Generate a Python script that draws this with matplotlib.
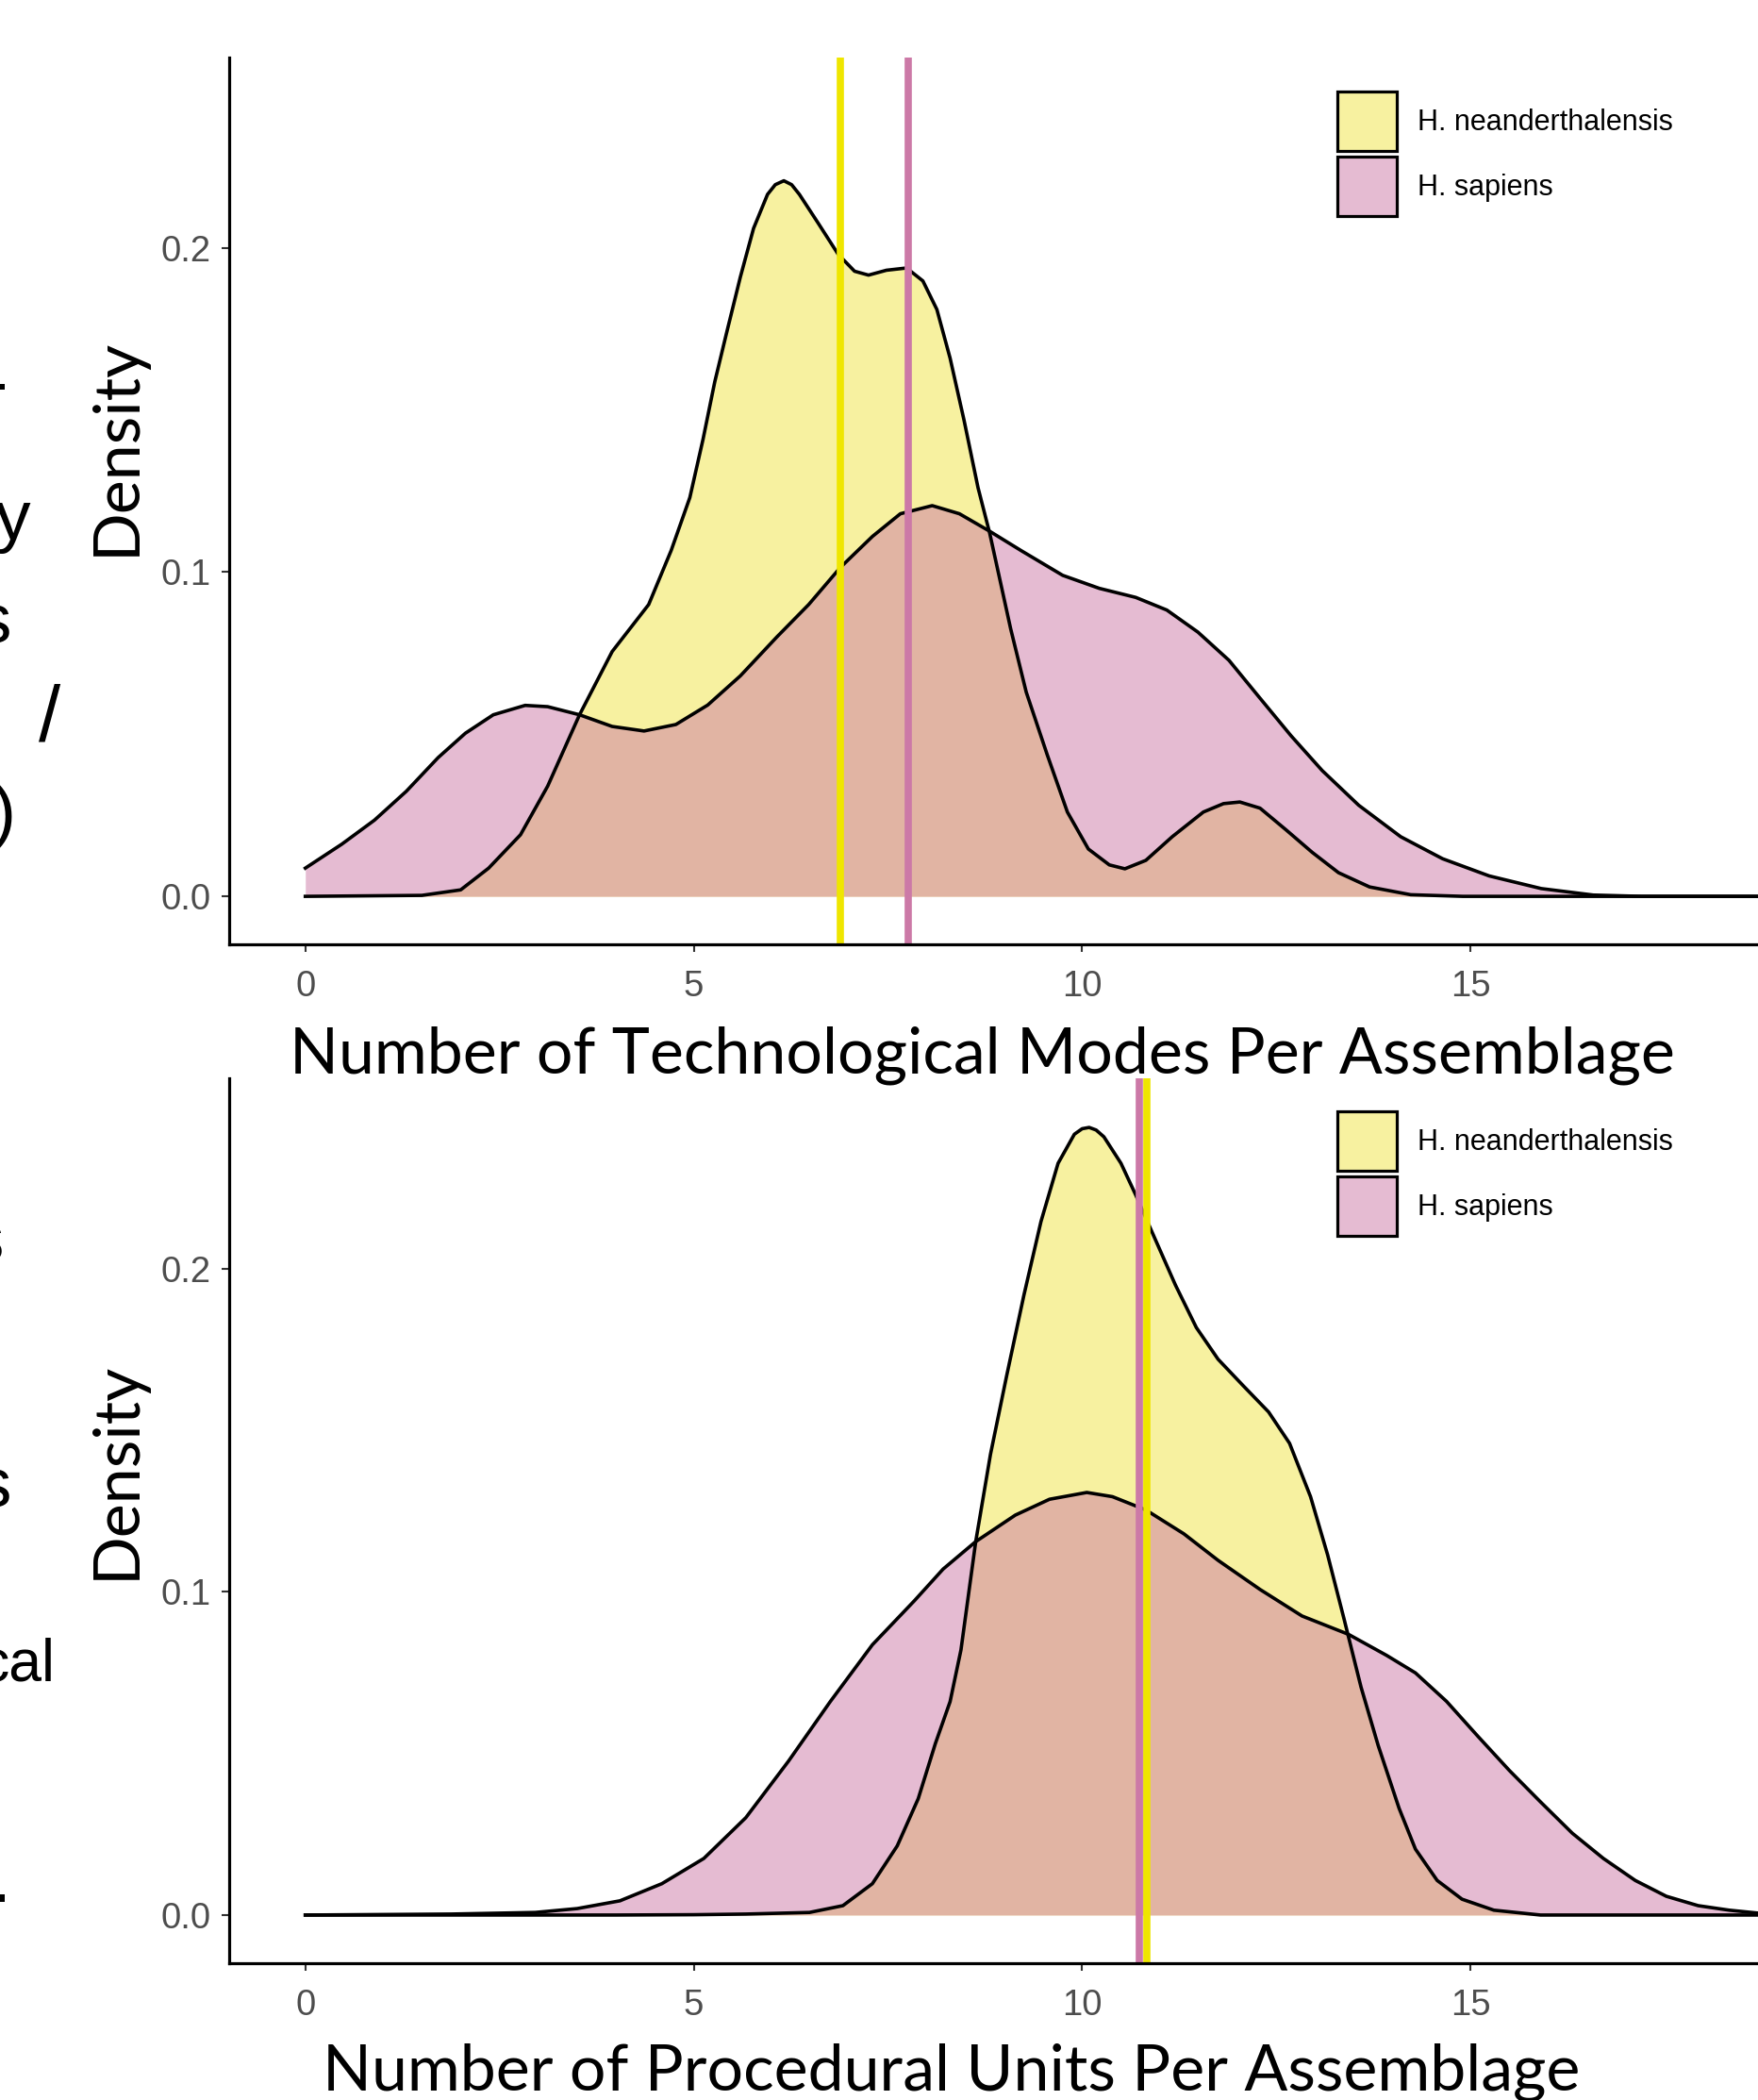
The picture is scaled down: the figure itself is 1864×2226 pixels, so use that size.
import matplotlib
matplotlib.use("Agg")
import matplotlib.pyplot as plt
import matplotlib.colors as mcolors
from matplotlib.patches import Patch

## groups and colours
groups = ["H. neanderthalensis", "H. sapiens"]
group_colors = ["#F0E442", "#CC79A7"]
mean_colors = ["#EFE600", "#CC79A7"]

## top panel: density of technological modes
modes_nea_x = [0, 1.5, 2.0, 2.36, 2.77, 3.12, 3.53, 3.95, 4.42, 4.71, 4.95, 5.12, 5.27,
               5.42, 5.60, 5.77, 5.95, 6.05, 6.16, 6.26, 6.36, 6.60, 6.86, 7.07, 7.25,
               7.48, 7.74, 7.95, 8.13, 8.30, 8.48, 8.66, 8.81, 9.08, 9.28, 9.55, 9.81,
               10.08, 10.35, 10.55, 10.82, 11.16, 11.56, 11.82, 12.03, 12.29, 12.63,
               12.96, 13.30, 13.70, 14.23, 14.9, 18.7]
modes_nea_y = [0, 0.0003, 0.002, 0.0087, 0.019, 0.034, 0.056, 0.0755, 0.090, 0.1067,
               0.123, 0.141, 0.1586, 0.1735, 0.191, 0.206, 0.2165, 0.2195, 0.2207,
               0.2195, 0.2165, 0.2077, 0.198, 0.1928, 0.1916, 0.1931, 0.1938, 0.1898,
               0.181, 0.166, 0.1468, 0.126, 0.112, 0.0825, 0.063, 0.0437, 0.026, 0.0146,
               0.0097, 0.0085, 0.0111, 0.0184, 0.026, 0.0286, 0.0291, 0.0272, 0.0204,
               0.0136, 0.0073, 0.0029, 0.0005, 0, 0]
modes_sap_x = [0, 0.47, 0.89, 1.30, 1.71, 2.06, 2.42, 2.83, 3.12, 3.53, 3.95, 4.36, 4.77,
               5.18, 5.60, 6.07, 6.48, 6.89, 7.30, 7.66, 8.07, 8.42, 8.81, 9.21, 9.75,
               10.22, 10.69, 11.09, 11.49, 11.89, 12.29, 12.69, 13.09, 13.56, 14.10,
               14.64, 15.24, 15.91, 16.58, 17.2, 18.7]
modes_sap_y = [0.0087, 0.0161, 0.0235, 0.0324, 0.0428, 0.0503, 0.056, 0.0589, 0.0585,
               0.056, 0.0524, 0.051, 0.053, 0.059, 0.068, 0.080, 0.090, 0.1015, 0.111,
               0.118, 0.1205, 0.118, 0.1126, 0.1067, 0.099, 0.095, 0.0922, 0.0883,
               0.0815, 0.0728, 0.0611, 0.0495, 0.0388, 0.0281, 0.0184, 0.0116, 0.0063,
               0.0024, 0.0004, 0, 0]
modes_means = [6.89, 7.76]

## bottom panel: density of procedural units
units_nea_x = [0, 2, 4, 5, 5.67, 6.49, 6.92, 7.30, 7.62, 7.89, 8.11, 8.30, 8.44, 8.63,
               8.82, 9.03, 9.25, 9.47, 9.69, 9.90, 10.0, 10.09, 10.18, 10.28, 10.50,
               10.69, 10.93, 11.20, 11.47, 11.75, 12.07, 12.40, 12.67, 12.94, 13.16,
               13.37, 13.59, 13.81, 14.08, 14.29, 14.57, 14.89, 15.30, 15.9, 17, 18.7]
units_nea_y = [0, 0, 0, 0.0001, 0.0003, 0.0008, 0.0029, 0.0097, 0.0214, 0.036, 0.053,
               0.066, 0.082, 0.1155, 0.1425, 0.167, 0.1917, 0.2145, 0.2325, 0.2415,
               0.2432, 0.2436, 0.2428, 0.2407, 0.2325, 0.2227, 0.2096, 0.1949, 0.1817,
               0.1719, 0.1638, 0.1556, 0.1459, 0.1294, 0.1114, 0.0917, 0.0705, 0.0525,
               0.0330, 0.0204, 0.0107, 0.0049, 0.0015, 0, 0, 0]
units_sap_x = [0, 1.88, 2.96, 3.50, 4.05, 4.59, 5.13, 5.67, 6.22, 6.76, 7.30, 7.84, 8.21,
               8.63, 9.14, 9.58, 10.06, 10.39, 10.82, 11.31, 11.75, 12.29, 12.83, 13.43,
               13.92, 14.29, 14.69, 15.09, 15.50, 15.90, 16.31, 16.71, 17.12, 17.52,
               17.93, 18.33, 18.70]
units_sap_y = [0, 0.0003, 0.0008, 0.002, 0.0044, 0.0097, 0.0175, 0.0301, 0.0476, 0.0661,
               0.0836, 0.0972, 0.1070, 0.1155, 0.1237, 0.1286, 0.1307, 0.1294, 0.1253,
               0.1179, 0.1097, 0.1007, 0.0925, 0.0868, 0.0803, 0.0749, 0.0661, 0.0554,
               0.0447, 0.035, 0.0253, 0.0175, 0.0107, 0.0058, 0.0029, 0.0015, 0.0006]
units_means = [10.83, 10.73]

x_ticks = [0, 5, 10, 15]
y_ticks = [0.0, 0.1, 0.2]
y_ticklabels = ["0.0", "0.1", "0.2"]
xlabels = ["Number of Technological Modes Per Assemblage",
           "Number of Procedural Units Per Assemblage"]

## bits of slide text cut off at the left edge
side_bits = ["T", "y", "s", "/", ")", "s", "s", "cal", "."]

W, H = 1864, 2226
fig = plt.figure(figsize=(W / 100, H / 100), dpi=100)


def fx(px):
    return px / W


def fy(py):
    return 1 - py / H


def draw_panel(ax, nea_x, nea_y, sap_x, sap_y, means):
    curves = [(nea_x, nea_y), (sap_x, sap_y)]
    for (xs, ys), c in zip(curves, group_colors):
        ax.fill_between(xs, 0, ys, color=c, alpha=0.5, linewidth=0)
        ax.plot(xs, ys, color="black", lw=2.6, solid_joinstyle="round")
    for m, c in zip(means, mean_colors):
        ax.axvline(m, color=c, lw=5.5)
    ax.set_xlim(-0.98, 18.70)
    ax.set_xticks(x_ticks)
    ax.set_xticklabels([str(t) for t in x_ticks])
    ax.set_yticks(y_ticks)
    ax.set_yticklabels(y_ticklabels)
    for s in ["top", "right"]:
        ax.spines[s].set_visible(False)
    for s in ["left", "bottom"]:
        ax.spines[s].set_linewidth(2.3)
    ax.tick_params(direction="out", length=5.8, width=1.5, color="#333333",
                   labelcolor="#4D4D4D", labelsize=27.5)
    ax.tick_params(axis="y", pad=8)
    ax.tick_params(axis="x", pad=14)
    for lab in ax.get_xticklabels() + ax.get_yticklabels():
        lab.set_family(["Liberation Sans", "DejaVu Sans"])
    handles = [Patch(facecolor=mcolors.to_rgba(c, 0.5), edgecolor="black", linewidth=2.3)
               for c in group_colors]
    return handles


ax1 = fig.add_axes([fx(243), fy(1001), fx(W - 243), (1001 - 61) / H])
h = draw_panel(ax1, modes_nea_x, modes_nea_y, modes_sap_x, modes_sap_y, modes_means)
ax1.set_ylim(-0.0148, 0.2587)

ax2 = fig.add_axes([fx(243), fy(2081), fx(W - 243), (2081 - 1143) / H])
draw_panel(ax2, units_nea_x, units_nea_y, units_sap_x, units_sap_y, units_means)
ax2.set_ylim(-0.0149, 0.2588)

for ax, top in [(ax1, 97), (ax2, 1178)]:
    leg = ax.legend(h, groups, loc="upper left", bbox_to_anchor=(fx(1418), fy(top)),
                    bbox_transform=fig.transFigure, frameon=False, borderpad=0,
                    borderaxespad=0, handlelength=2.05, handleheight=2.8,
                    labelspacing=0.2, handletextpad=0.72,
                    prop={"family": ["Liberation Sans", "DejaVu Sans"], "size": 22})

## axis titles
title_font = ["Lato", "DejaVu Sans"]
fig.text(fx(124), fy(473), "Density", rotation=90, ha="center", va="center",
         fontsize=49, family=title_font)
fig.text(fx(124), fy(1558), "Density", rotation=90, ha="center", va="center",
         fontsize=49, family=title_font)
fig.text(fx(1041), fy(1138), xlabels[0], ha="center", va="baseline",
         fontsize=49, family=title_font)
fig.text(fx(1009), fy(2216), xlabels[1], ha="center", va="baseline",
         fontsize=49, family=title_font)

## slide text remnants on the left edge (right edge px, baseline px, size)
bit_pos = [(6, 458, 54), (32, 572, 54), (12, 682, 54), (64, 785, 60), (17, 885, 54),
           (4, 1338, 54), (12, 1598, 54), (58, 1781, 45), (11, 2016, 54)]
for txt, (rx, by, fs) in zip(side_bits, bit_pos):
    fig.text(fx(rx), fy(by), txt, ha="right", va="baseline", fontsize=fs,
             family=["Liberation Sans", "DejaVu Sans"])

fig.savefig("out.png", dpi=100)
